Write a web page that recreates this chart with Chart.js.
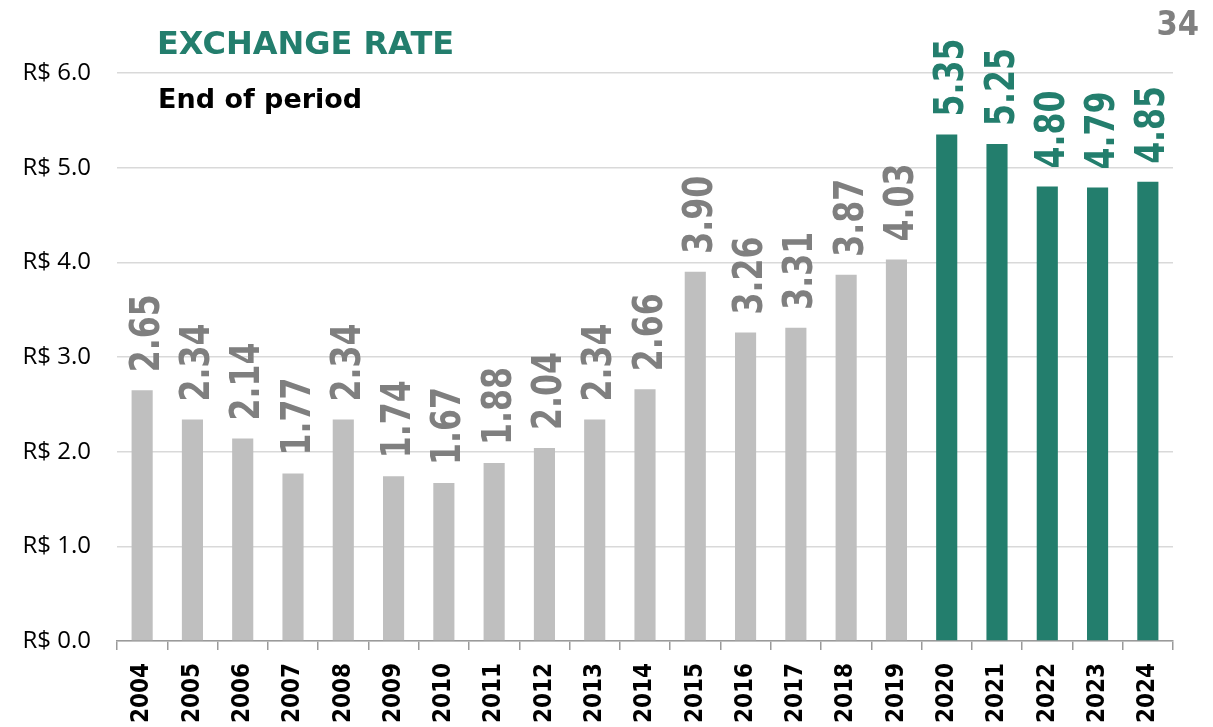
<!DOCTYPE html>
<html>
<head>
<meta charset="utf-8">
<title>Exchange rate</title>
<script src="https://cdn.jsdelivr.net/npm/chart.js@4/dist/chart.umd.min.js"></script>
<style>
    html, body { margin: 0; padding: 0; background: #fff; }
    #wrap { position: relative; width: 1213px; height: 727px; }
    #graph { position: absolute; left: 0; top: 0; }
    .txt { position: absolute; font-family: "DejaVu Sans", Verdana, sans-serif; font-weight: bold; white-space: nowrap; line-height: 1; }
    #title { left: 157px; top: 27px; font-size: 32px; color: #237E6D; }
    #subtitle { left: 158px; top: 85px; font-size: 27px; color: #000; }
    #page { right: 14px; top: 6px; font-family: "DejaVu Sans Condensed", "DejaVu Sans", sans-serif; font-size: 34px; color: #808080; }
</style>
</head>
<body>
<div id="wrap">
    <canvas id="graph" width="1213" height="727"></canvas>
    <div class="txt" id="title">EXCHANGE RATE</div>
    <div class="txt" id="subtitle">End of period</div>
    <div class="txt" id="page">34</div>
</div>
<script>
const YEARS = [
    '2004', '2005', '2006', '2007', '2008', '2009', '2010', '2011', '2012', '2013', '2014',
    '2015', '2016', '2017', '2018', '2019', '2020', '2021', '2022', '2023', '2024'
];
const RATES = [
    2.65, 2.34, 2.14, 1.77, 2.34, 1.74, 1.67, 1.88, 2.04, 2.34, 2.66,
    3.90, 3.26, 3.31, 3.87, 4.03, 5.35, 5.25, 4.80, 4.79, 4.85
];
const Y_TICKS = [0, 1, 2, 3, 4, 5, 6];
const FIRST_RECENT_YEAR = '2020';

const GREY_BAR = '#BFBFBF';
const GREY_TEXT = '#7F7F7F';
const TEAL = '#237E6D';

const isRecent = YEARS.map(y => y >= FIRST_RECENT_YEAR);
const barColors = isRecent.map(r => r ? TEAL : GREY_BAR);
const labelColors = isRecent.map(r => r ? TEAL : GREY_TEXT);

// vertical value labels above each bar (narrowed along the text direction)
const valueLabels = {
    id: 'valueLabels',
    afterDatasetsDraw(chart) {
        const ctx = chart.ctx;
        const meta = chart.getDatasetMeta(0);
        const fontSize = 40;
        const capHeight = fontSize * 0.729;
        ctx.save();
        ctx.font = `bold ${fontSize}px "DejaVu Sans", Verdana, sans-serif`;
        ctx.textAlign = 'left';
        ctx.textBaseline = 'alphabetic';
        meta.data.forEach((bar, i) => {
            ctx.save();
            ctx.translate(bar.x + 2, bar.y - 18);
            ctx.rotate(-Math.PI / 2);
            ctx.scale(0.79, 1);
            ctx.fillStyle = labelColors[i];
            ctx.fillText(RATES[i].toFixed(2), 0, capHeight / 2);
            ctx.restore();
        });
        ctx.restore();
    }
};

const ctx = document.getElementById('graph').getContext('2d');
new Chart(ctx, {
    type: 'bar',
    data: {
        labels: YEARS,
        datasets: [{
            data: RATES,
            backgroundColor: barColors,
            borderWidth: 0,
            barPercentage: 0.42,
            categoryPercentage: 1
        }]
    },
    options: {
        responsive: false,
        animation: false,
        events: [],
        layout: { padding: { top: 73, right: 40, left: 0, bottom: 0 } },
        plugins: {
            legend: { display: false },
            tooltip: { enabled: false },
            title: { display: false }
        },
        scales: {
            x: {
                border: { display: true, color: '#9A9A9A', width: 1.5 },
                grid: {
                    offset: true,
                    drawOnChartArea: false,
                    drawTicks: true,
                    tickLength: 9,
                    color: '#9A9A9A',
                    lineWidth: 1.5
                },
                ticks: {
                    autoSkip: false,
                    minRotation: 90,
                    maxRotation: 90,
                    padding: 13,
                    color: '#000',
                    font: { family: '"DejaVu Sans Condensed", "DejaVu Sans", sans-serif', weight: 'bold', size: 24 }
                },
                afterFit(scale) { scale.height = 86; }
            },
            y: {
                min: 0,
                max: 6,
                border: { display: false },
                grid: { color: '#D9D9D9', lineWidth: 1.5, drawTicks: false },
                afterBuildTicks(scale) {
                    scale.ticks = Y_TICKS.map(v => ({ value: v }));
                },
                ticks: {
                    padding: 26,
                    color: '#000',
                    font: { family: '"Open Sans", sans-serif', size: 24 },
                    callback: v => 'R$ ' + Number(v).toFixed(1)
                },
                afterFit(scale) { scale.width = 117; }
            }
        }
    },
    plugins: [valueLabels]
});
</script>
</body>
</html>
